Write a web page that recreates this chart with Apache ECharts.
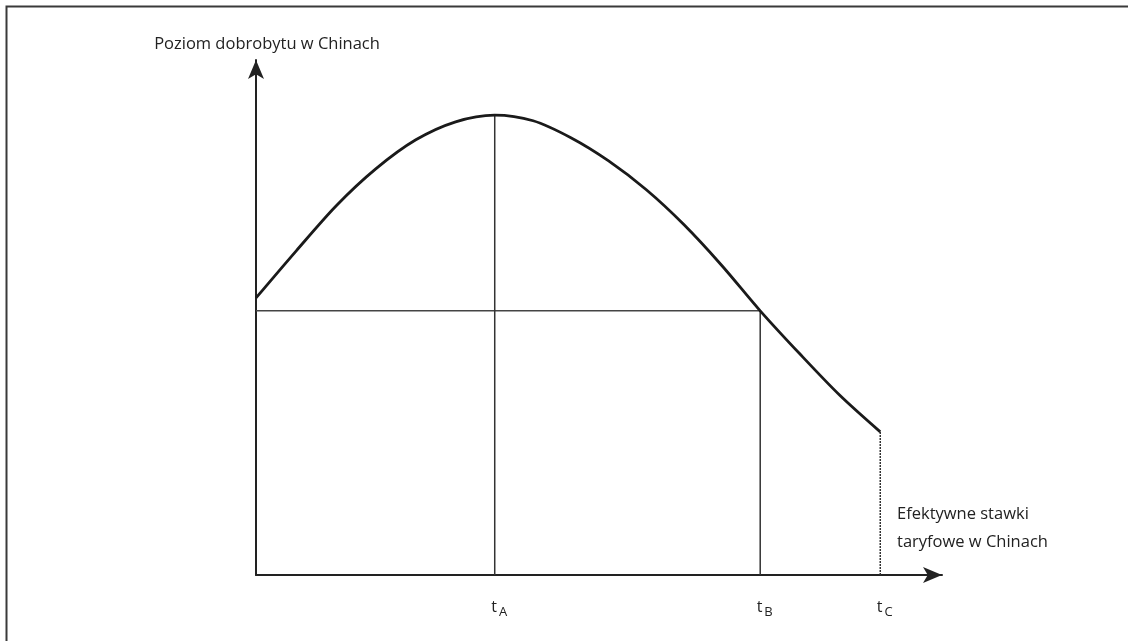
<!DOCTYPE html>
<html>
<head>
<meta charset="utf-8">
<script src="https://cdn.jsdelivr.net/npm/echarts@6/dist/echarts.min.js"></script>
<style>
  html, body { margin: 0; padding: 0; background: #fff; }
  #container { width: 1128px; height: 641px; }
</style>
</head>
<body>
<div id="container"></div>
<script>
// welfare curve (x: tariff rate, y: welfare level)
const curveX = [0, 5.9, 11.7, 17.5, 23.3, 29.1, 34.8, 40.4, 45.9, 51.4, 56.9, 62.4, 67.9, 73.5, 79.3, 85.1, 91.0];
const curveY = [53.8, 63.0, 71.7, 78.9, 84.5, 88.0, 89.3, 88.2, 84.9, 80.4, 74.8, 68.0, 60.1, 51.3, 42.9, 34.9, 27.8];

// marked tariff rates t_A, t_B, t_C and the welfare level at t_B
const tickPos = [34.8, 73.5, 91.0];
const tickNames = ['A', 'B', 'C'];
const levelB = 51.3;

const yAxisName = 'Poziom dobrobytu w Chinach';
const xAxisName = 'Efektywne stawki\ntaryfowe w Chinach';

const dom = document.getElementById('container');
const myChart = echarts.init(dom);

const font = '"Open Sans", sans-serif';
const curve = curveX.map((x, i) => [x, curveY[i]]);
const peakY = Math.max(...curveY);
const endY = curveY[curveY.length - 1];

const guide = (data, extra) => Object.assign({
  type: 'line',
  data: data,
  symbol: 'none',
  silent: true,
  lineStyle: { color: '#333', width: 1.5 },
}, extra);

const option = {
  animation: false,
  title: {
    text: xAxisName,
    left: 892,
    top: 495,
    textStyle: { fontFamily: font, fontSize: 16.5, fontWeight: 'normal', color: '#222', lineHeight: 28 },
  },
  graphic: [{
    type: 'rect',
    left: 4,
    top: 4,
    shape: { width: 1200, height: 700 },
    style: { fill: 'none', stroke: '#3a3a3a', lineWidth: 2 },
  }],
  grid: { left: 256, right: 186, top: 60, bottom: 66 },
  xAxis: {
    type: 'value',
    min: 0,
    max: 100,
    splitLine: { show: false },
    axisTick: { show: false },
    axisLine: {
      symbol: ['none', 'arrow'],
      symbolSize: [12, 19],
      lineStyle: { color: '#222', width: 2 },
    },
    axisLabel: {
      customValues: tickPos,
      margin: 21,
      formatter: v => '{t|t}{s|' + tickNames[tickPos.indexOf(v)] + '}',
      rich: {
        t: { fontFamily: font, fontSize: 16, color: '#222', padding: [0, 0, 0, 9] },
        s: { fontFamily: font, fontSize: 13, color: '#222', padding: [10, 0, 0, 2] },
      },
    },
  },
  yAxis: {
    type: 'value',
    min: 0,
    max: 100,
    name: yAxisName,
    nameLocation: 'end',
    nameGap: 7,
    nameTextStyle: { fontFamily: font, fontSize: 16.5, color: '#222', padding: [0, 0, 0, 22] },
    splitLine: { show: false },
    axisTick: { show: false },
    axisLabel: { show: false },
    axisLine: {
      symbol: ['none', 'arrow'],
      symbolSize: [12, 19],
      lineStyle: { color: '#222', width: 2 },
    },
  },
  series: [
    guide([[0, levelB], [tickPos[1], levelB]], { lineStyle: { color: '#444', width: 1.5 } }),
    guide([[tickPos[0], 0], [tickPos[0], peakY]]),
    guide([[tickPos[1], 0], [tickPos[1], levelB]]),
    guide([[tickPos[2], 0], [tickPos[2], endY]], { lineStyle: { color: '#333', width: 1.5, type: [2, 1] } }),
    {
      type: 'line',
      data: curve,
      smooth: 0.3,
      symbol: 'none',
      lineStyle: { color: '#1a1a1a', width: 2.8 },
      z: 5,
    },
  ],
};

if (option && typeof option === 'object') {
  myChart.setOption(option);
}
</script>
</body>
</html>
